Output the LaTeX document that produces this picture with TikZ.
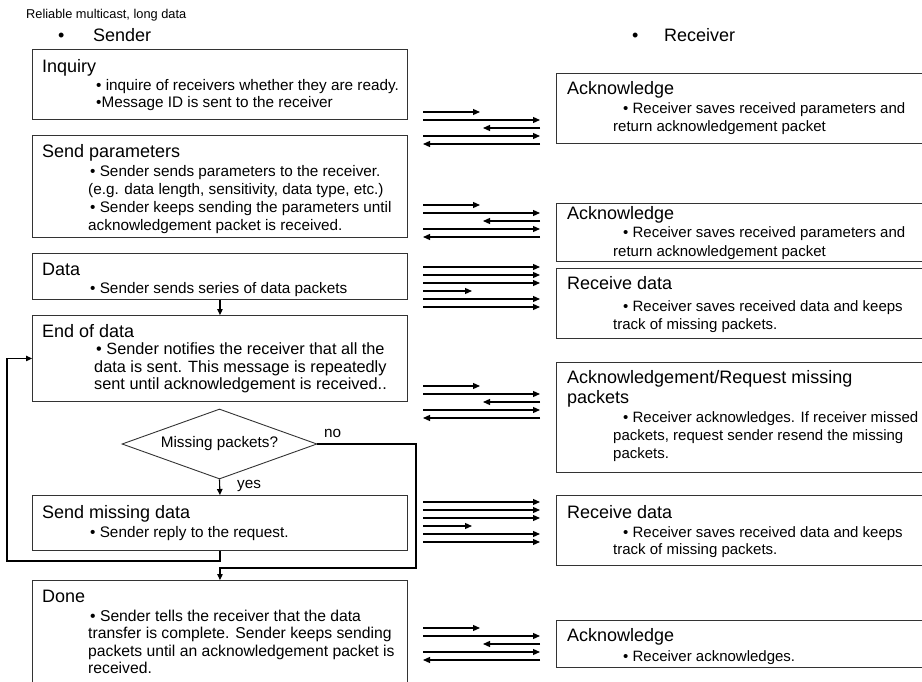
\documentclass[tikz,border=0pt]{standalone}
\usepackage{fontspec}
\setmainfont{Liberation Sans}
\usetikzlibrary{arrows.meta,shapes.geometric}
\tikzset{
  sbox/.style={draw=black!80, line width=0.9pt, inner sep=0pt, anchor=north west},
  hd/.style={font=\fontsize{18}{21}\selectfont, inner sep=0pt, anchor=base west},
  bd/.style={font=\fontsize{15.3}{18}\selectfont, inner sep=0pt, anchor=base west},
  rbd/.style={font=\fontsize{15}{18}\selectfont, inner sep=0pt, anchor=base west},
  ebd/.style={font=\fontsize{16.3}{18}\selectfont, inner sep=0pt, anchor=base west},
  dbd/.style={font=\fontsize{15.7}{18}\selectfont, inner sep=0pt, anchor=base west},
  ttl/.style={font=\fontsize{12.8}{15}\selectfont, inner sep=0pt, anchor=base west},
  pkt/.style={line width=1.2pt, -{Triangle[length=7pt,width=6pt]}},
  flow/.style={line width=1.1pt, -{Triangle[length=6pt,width=5.5pt]}},
}
\newcommand\handshake[2]{%
  \foreach \k/\dy/\xa/\xb in {1/0/423/480, 2/8/423/540, 3/16/540/483, 4/24/423/540, 5/32/540/423}{
    \coordinate (#1s\k) at (\xa,#2+\dy);
    \coordinate (#1e\k) at (\xb,#2+\dy);
    \draw[pkt] (#1s\k) -- (#1e\k);
  }}
\newcommand\datastream[2]{%
  \foreach \k/\dy/\xa/\xb in {1/0/423/540, 2/8/423/540, 3/16/423/540, 4/24/423/472, 5/32/423/540, 6/40/423/540}{
    \coordinate (#1s\k) at (\xa,#2+\dy);
    \coordinate (#1e\k) at (\xb,#2+\dy);
    \draw[pkt] (#1s\k) -- (#1e\k);
  }}
\begin{document}
\begin{tikzpicture}[x=1pt,y=-1pt]
\useasboundingbox (0,0) rectangle (922,682);
\clip (0,0) rectangle (922,682);

% titles
\node[ttl] (title) at (26,18.5) {Reliable multicast, long data};
\node[hd] (sbul) at (58,41.5) {•};
\node[hd] (stitle) at (93,41.5) {Sender};
\node[hd] (rbul) at (632,41.5) {•};
\node[hd] (rtitle) at (664,41.5) {Receiver};

% ---------------- sender boxes
\node[sbox, minimum width=375, minimum height=70] (inq) at (32,49) {};
\node[hd] (inqh) at (42,73) {Inquiry};
\node[bd] (inq1) at (96,91) {• inquire of receivers whether they are ready.};
\node[bd] (inq2) at (96,108) {•Message ID is sent to the receiver};

\node[sbox, minimum width=375, minimum height=102] (sp) at (32,135) {};
\node[hd] (sph) at (42,158) {Send parameters};
\node[bd] (sp1) at (90,177) {• Sender sends parameters to the receiver.};
\node[bd] (sp2) at (88,195) {(e.g. data length, sensitivity, data type, etc.)};
\node[bd] (sp3) at (90,213) {• Sender keeps sending the parameters until};
\node[bd] (sp4) at (88,231) {acknowledgement packet is received.};

\node[sbox, minimum width=375, minimum height=46] (data) at (32,253) {};
\node[hd] (datah) at (42,276) {Data};
\node[bd] (data1) at (90,294) {• Sender sends series of data packets};

\node[sbox, minimum width=375, minimum height=86] (eod) at (32,315) {};
\node[hd] (eodh) at (42,337) {End of data};
\node[ebd] (eod1) at (96,354) {• Sender notifies the receiver that all the};
\node[ebd] (eod2) at (94,372) {data is sent. This message is repeatedly};
\node[ebd] (eod3) at (94,389) {sent until acknowledgement is received..};

\node[draw=black!80, line width=0.9pt, shape=diamond, aspect=2.79, inner sep=0pt,
      minimum width=195, minimum height=70,
      font=\fontsize{15.3}{18}\selectfont] (dia) at (219.5,444) {Missing packets?};
\node[bd] (nolbl) at (324,437) {no};
\node[bd] (yeslbl) at (237,488) {yes};

\node[sbox, minimum width=375, minimum height=55] (smd) at (32,495) {};
\node[hd] (smdh) at (42,518) {Send missing data};
\node[bd] (smd1) at (90,537) {• Sender reply to the request.};

\node[sbox, minimum width=375, minimum height=120] (done) at (32,580) {};
\node[hd] (doneh) at (42,602) {Done};
\node[dbd] (done1) at (90,621) {• Sender tells the receiver that the data};
\node[dbd] (done2) at (88,638) {transfer is complete. Sender keeps sending};
\node[dbd] (done3) at (88,656) {packets until an acknowledgement packet is};
\node[dbd] (done4) at (88,673) {received.};

% flow connectors
\coordinate (noturn) at (416,568);
\coordinate (loopturn) at (7,561);
\draw[flow] (data.south) -- (eod.north);
\draw[flow] (dia.south) -- (smd.north);
\draw[flow] (dia.east) -| (noturn) -| (done.north);
\draw[flow] (smd.south) |- (loopturn) |- (eod.west);

% ---------------- receiver boxes
\node[sbox, minimum width=380, minimum height=70] (ack1) at (556,73) {};
\node[hd] (ack1h) at (567,95) {Acknowledge};
\node[rbd] (ack11) at (623,114) {• Receiver saves received parameters and};
\node[rbd] (ack12) at (613,132) {return acknowledgement packet};

\node[sbox, minimum width=380, minimum height=58] (ack2) at (556,203) {};
\node[hd] (ack2h) at (567,220) {Acknowledge};
\node[rbd] (ack21) at (623,238) {• Receiver saves received parameters and};
\node[rbd] (ack22) at (613,256) {return acknowledgement packet};

\node[sbox, minimum width=380, minimum height=70] (rd1) at (556,268) {};
\node[hd] (rd1h) at (567,290) {Receive data};
\node[rbd] (rd11) at (623,311) {• Receiver saves received data and keeps};
\node[rbd] (rd12) at (613,329) {track of missing packets.};

\node[sbox, minimum width=380, minimum height=110] (req) at (556,362) {};
\node[hd] (reqh) at (567,383) {Acknowledgement/Request missing};
\node[hd] (reqh2) at (567,403) {packets};
\node[rbd] (req1) at (623,422) {• Receiver acknowledges. If receiver missed};
\node[rbd] (req2) at (613,440) {packets, request sender resend the missing};
\node[rbd] (req3) at (613,458) {packets.};

\node[sbox, minimum width=380, minimum height=70] (rd2) at (556,495) {};
\node[hd] (rd2h) at (567,518) {Receive data};
\node[rbd] (rd21) at (623,537) {• Receiver saves received data and keeps};
\node[rbd] (rd22) at (613,554) {track of missing packets.};

\node[sbox, minimum width=380, minimum height=47] (ack3) at (556,620) {};
\node[hd] (ack3h) at (567,641) {Acknowledge};
\node[rbd] (ack31) at (623,661) {• Receiver acknowledges.};

% ---------------- packet arrows
\handshake{ga}{112}
\handshake{gb}{205}
\datastream{gc}{267}
\handshake{gd}{386}
\datastream{ge}{502}
\handshake{gf}{628}
\end{tikzpicture}
\end{document}
